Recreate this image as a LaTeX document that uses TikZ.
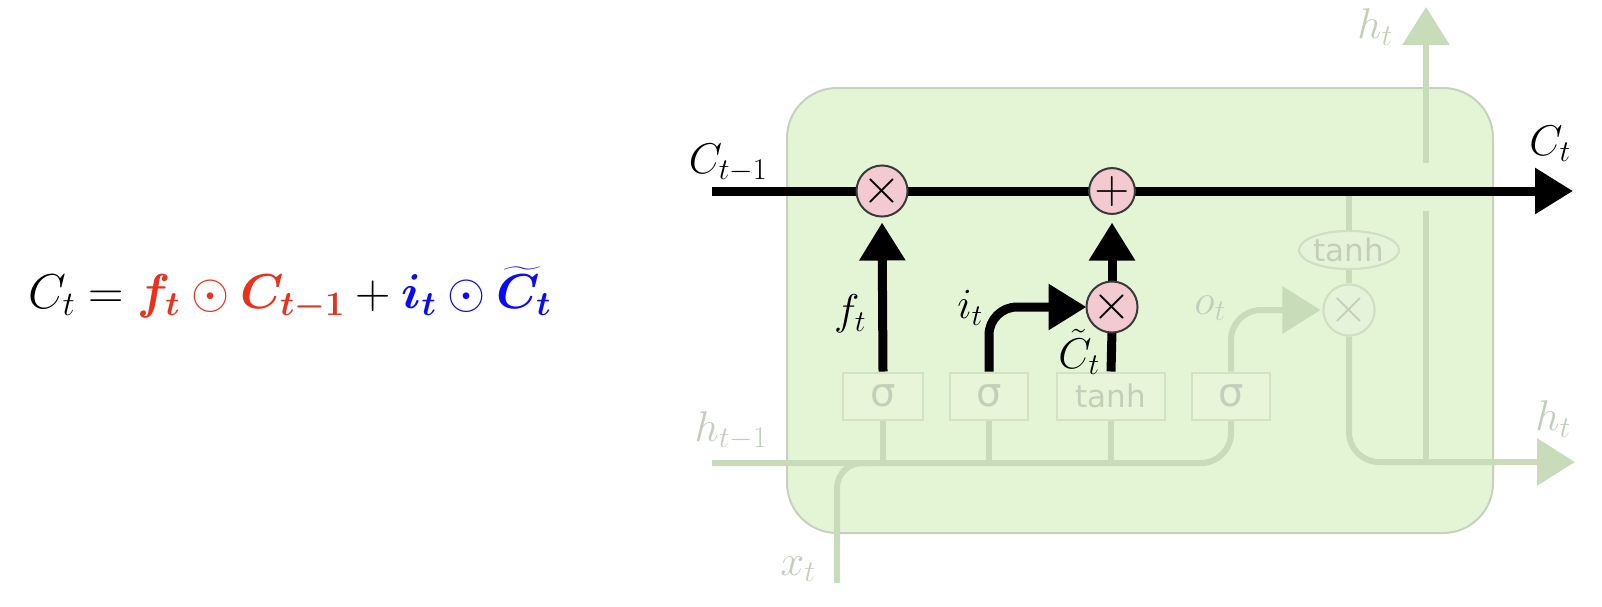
\RequirePackage{fix-cm}
\documentclass[tikz,border=0pt]{standalone}
\usepackage{amsmath,bm}
\usepackage{fontspec}
\newfontfamily\boxfont{DejaVu Sans}
\usetikzlibrary{arrows.meta,shapes.geometric}
\definecolor{cellfill}{HTML}{E4F5D6}
\definecolor{cellborder}{HTML}{C8D0C0}
\definecolor{fadeline}{HTML}{C9DCB9}
\definecolor{fadetext}{HTML}{C3CFBB}
\definecolor{gatefill}{HTML}{E8F5D8}
\definecolor{gateborder}{HTML}{D2E2C2}
\definecolor{oppink}{HTML}{F2CACF}
\definecolor{opborder}{HTML}{3A3A3A}
\definecolor{fadeop}{HTML}{E6F3DB}
\definecolor{fadeopb}{HTML}{D0DEC4}
\definecolor{eqred}{HTML}{E8321E}
\definecolor{eqblue}{HTML}{0A0AF5}
\tikzset{
  blk/.style={line width=9pt, draw=black},
  blkarrow/.style={blk, -{Triangle[length=38pt,width=44pt]}},
  fade/.style={line width=6pt, draw=fadeline},
  fadearrow/.style={fade, -{Triangle[length=38pt,width=46pt]}},
  opcirc/.style={circle, draw=opborder, line width=2pt, fill=oppink, minimum size=45pt, inner sep=0pt},
  fadecirc/.style={circle, draw=fadeopb, line width=2pt, fill=fadeop, minimum size=46pt, inner sep=0pt, text=fadetext},
  crossfont/.style={font=\fontsize{50}{50}\selectfont},
  plusfont/.style={font=\fontsize{48}{48}\selectfont},
  gatebox/.style={draw=gateborder, line width=2pt, fill=gatefill, minimum height=47pt, inner sep=0pt, text=fadetext},
  sigfont/.style={font=\boxfont\fontsize{40}{40}\selectfont},
  tanhfont/.style={font=\boxfont\fontsize{31}{31}\selectfont},
  lbl/.style={font=\fontsize{43}{45}\selectfont, inner sep=0pt},
  flbl/.style={lbl, text=fadetext},
}
\begin{document}
\begin{tikzpicture}[x=1pt,y=-1pt]
\useasboundingbox (0,0) rectangle (1602,606);
% equation
\node[anchor=base west, inner sep=0pt, font=\fontsize{49}{52}\selectfont] (eq) at (28,308)
  {$C_t = \textcolor{eqred}{\boldsymbol{f_t} \odot \boldsymbol{C_{t-1}}} + \textcolor{eqblue}{\boldsymbol{i_t} \odot \boldsymbol{\widetilde{C}}_{\boldsymbol{t}}}$};
% cell
\node[draw=cellborder, line width=2pt, fill=cellfill, rounded corners=50pt, minimum width=706pt, minimum height=445pt, inner sep=0pt] (cell) at (1140,310.5) {};
% coordinates
\coordinate (cin) at (712,191);
\coordinate (cout) at (1573,191);
\coordinate (hin) at (712,463);
\coordinate (xin) at (837,583);
\coordinate (hout) at (1575,462);
\coordinate (htop) at (1426,7);
\coordinate (hupA) at (1426,462);
\coordinate (hupB) at (1426,211);
\coordinate (hupC) at (1426,163);
\coordinate (tanhin) at (1349,191);
% gates
\node[gatebox, sigfont, minimum width=80pt] (sf) at (883,396) {σ};
\node[gatebox, sigfont, minimum width=78pt] (si) at (989,396) {σ};
\node[gatebox, tanhfont, minimum width=108pt] (tc) at (1111,396) {tanh};
\node[gatebox, sigfont, minimum width=78pt] (so) at (1231,396) {σ};
% faded ops
\node[fadecirc, crossfont] (mulo) at (1349,310) {$\times$};
\node[ellipse, draw=fadeopb, line width=2pt, fill=fadeop, minimum width=100pt, minimum height=38pt, inner sep=0pt, text=fadetext, tanhfont] (tanho) at (1349,250) {tanh};
% faded lines
\draw[fade, rounded corners=30pt] (hin) -- (so.south |- hin) -- (so.south);
\draw[fade, rounded corners=25pt] (xin) -- (xin |- hin) -- ([xshift=40pt]xin |- hin);
\draw[fade] (sf.south |- hin) -- (sf.south);
\draw[fade] (si.south |- hin) -- (si.south);
\draw[fade] (tc.south |- hin) -- (tc.south);
\draw[fadearrow, rounded corners=30pt, shorten >=2pt] (so.north) -- (so.north |- mulo) -- (mulo.west);
\draw[fade] (tanhin) -- (tanho.north);
\draw[fade] (tanho.south) -- (mulo.north);
\draw[fadearrow, rounded corners=30pt] (mulo.south) -- (mulo.south |- hout) -- (hout);
\draw[fade] (hupA) -- (hupB);
\draw[fadearrow] (hupC) -- (htop);
% redraw faded nodes on top of lines
\node[gatebox, sigfont, minimum width=80pt] at (sf) {σ};
\node[gatebox, sigfont, minimum width=78pt] at (si) {σ};
\node[gatebox, tanhfont, minimum width=108pt] at (tc) {tanh};
\node[gatebox, sigfont, minimum width=78pt] at (so) {σ};
\node[fadecirc, crossfont] at (mulo) {$\times$};
\node[ellipse, draw=fadeopb, line width=2pt, fill=fadeop, minimum width=100pt, minimum height=38pt, inner sep=0pt, text=fadetext, tanhfont] at (tanho) {tanh};
% black ops
\node[opcirc] (mulf) at (882,191) {};
\node[opcirc] (add) at (1112,191) {};
\node[opcirc] (muli) at (1112,307) {};
\draw[blkarrow] (cin) -- (cout);
\draw[blkarrow, shorten >=8pt] (sf.north) -- (mulf.south);
\draw[blkarrow, rounded corners=28pt, shorten >=2pt] (si.north) -- (si.north |- muli) -- (muli.west);
\draw[blk] (tc.north) -- (muli.south);
\draw[blkarrow, shorten >=8pt] (muli.north) -- (add.south);
\node[opcirc, crossfont] at (mulf) {$\times$};
\node[opcirc, plusfont] at (add) {$+$};
\node[opcirc, crossfont] at (muli) {$\times$};
% labels
\node[lbl] (lcp) at (728,163) {$C_{t-1}$};
\node[lbl] (lct) at (1550,144) {$C_t$};
\node[lbl] (lf) at (850,314) {$f_t$};
\node[lbl] (li) at (970,308) {$i_t$};
\node[lbl] (lctil) at (1079,352) {$\tilde{C}_t$};
\node[flbl] (lo) at (1210,308) {$o_t$};
\node[flbl] (lhp) at (731,431) {$h_{t-1}$};
\node[flbl] (lx) at (798,569) {$x_t$};
\node[flbl] (lhr) at (1553,419) {$h_t$};
\node[flbl] (lht) at (1375,27) {$h_t$};
\end{tikzpicture}
\end{document}
